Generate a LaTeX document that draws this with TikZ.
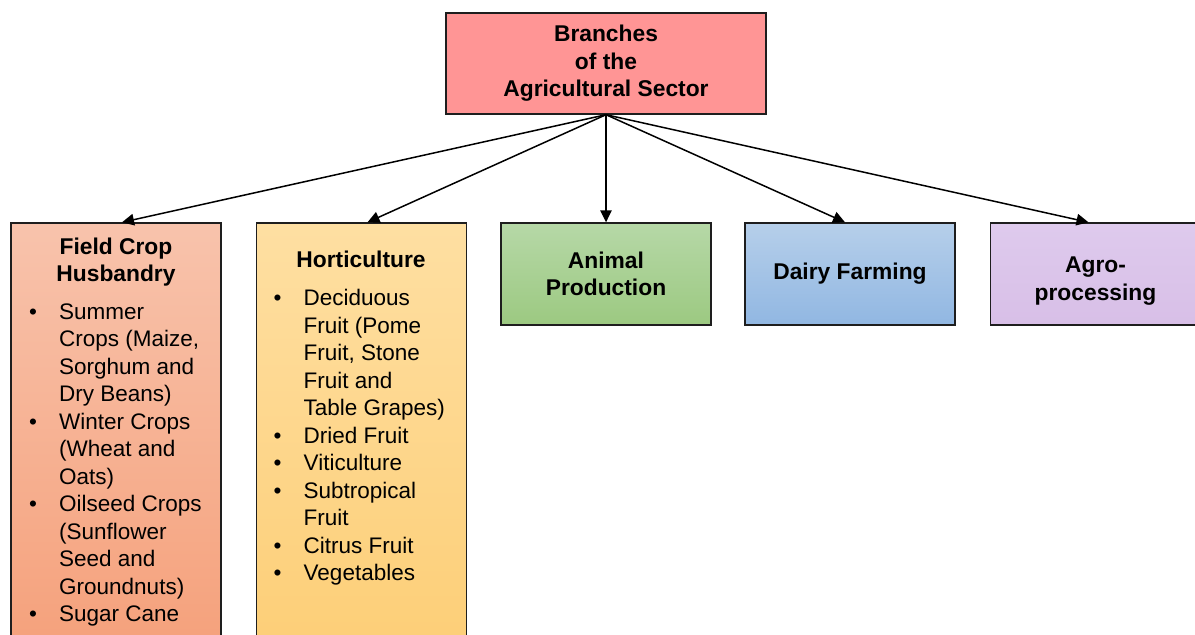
\documentclass[tikz,border=0pt]{standalone}
\usepackage{fontspec}
\setmainfont{Liberation Sans}
\usetikzlibrary{arrows.meta}

\definecolor{boxline}{HTML}{1E1E1E}
\definecolor{rootfill}{HTML}{FF9595}
\definecolor{fieldtop}{HTML}{F8C3AC}
\definecolor{fieldbot}{HTML}{F5A07A}
\definecolor{hortitop}{HTML}{FEDFA2}
\definecolor{hortibot}{HTML}{FDCE76}
\definecolor{animtop}{HTML}{B6D8A7}
\definecolor{animbot}{HTML}{9CC981}
\definecolor{dairytop}{HTML}{B6CFEA}
\definecolor{dairybot}{HTML}{91B7E2}
\definecolor{agrotop}{HTML}{DECAED}
\definecolor{agrobot}{HTML}{D8BFE7}

\newcommand\headfont{\fontsize{22.8}{27.5}\selectfont\bfseries}
\newcommand\bodyfont{\fontsize{22.5}{27.5}\selectfont}
\newcommand\bul[1]{\makebox[30pt][l]{\textbullet}#1}
\newcommand\ind[1]{\hspace*{30pt}#1}

\begin{document}
\begin{tikzpicture}[x=1pt,y=-1pt,
  box/.style={draw=boxline, line width=1.4pt, inner sep=0pt,
    minimum width=210pt, minimum height=102pt, align=center, font=\headfont},
  tallbox/.style={box, minimum height=437pt},
  link/.style={-{Triangle[length=12pt,width=11.5pt]}, line width=1.5pt, draw=black},
  listtext/.style={anchor=base west, inner sep=0pt, font=\bodyfont},
  headtext/.style={anchor=base, inner sep=0pt, font=\headfont}]

  \useasboundingbox (0,0) rectangle (1195,635);
  \fill[white] (0,0) rectangle (1195,635);
  \clip (0,0) rectangle (1195,635);

  % root of the tree
  \node[box, fill=rootfill, minimum width=320pt, minimum height=101pt]
    (root) at (606,63.5) {Branches\\of the\\Agricultural Sector};

  % five branches
  \node[tallbox, top color=fieldtop, bottom color=fieldbot] (field) at (116,441.5) {};
  \node[tallbox, top color=hortitop, bottom color=hortibot] (horti) at (361.5,441.5) {};
  \node[box, top color=animtop, bottom color=animbot] (animal) at (606,274) {Animal\\Production};
  \node[box, top color=dairytop, bottom color=dairybot] (dairy) at (850,274) {Dairy Farming};
  \node[box, top color=agrotop, bottom color=agrobot] (agro) at (1095.5,274) {};
  \node[headtext, anchor=center, align=center] (agrotext) at (1095.5,281) {Agro-\\processing};

  % field crop husbandry contents
  \node[headtext] (fieldhead) at (116,254)
    {\parbox[t]{200pt}{\centering Field Crop\\Husbandry}};
  \node[listtext] (fieldlist) at (29,319) {\parbox[t]{200pt}{\raggedright
    \bul{Summer}\\
    \ind{Crops (Maize,}\\
    \ind{Sorghum and}\\
    \ind{Dry Beans)}\\
    \bul{Winter Crops}\\
    \ind{(Wheat and}\\
    \ind{Oats)}\\
    \bul{Oilseed Crops}\\
    \ind{(Sunflower}\\
    \ind{Seed and}\\
    \ind{Groundnuts)}\\
    \bul{Sugar Cane}}};

  % horticulture contents
  \node[headtext] (hortihead) at (361,267) {Horticulture};
  \node[listtext] (hortilist) at (273.5,305.5) {\parbox[t]{200pt}{\raggedright
    \bul{Deciduous}\\
    \ind{Fruit (Pome}\\
    \ind{Fruit, Stone}\\
    \ind{Fruit and}\\
    \ind{Table Grapes)}\\
    \bul{Dried Fruit}\\
    \bul{Viticulture}\\
    \bul{Subtropical}\\
    \ind{Fruit}\\
    \bul{Citrus Fruit}\\
    \bul{Vegetables}}};

  % connectors
  \draw[link] (root.south) -- ([xshift=6pt]field.north);
  \draw[link] (root.south) -- ([xshift=6pt]horti.north);
  \draw[link] (root.south) -- (animal.north);
  \draw[link] (root.south) -- ([xshift=-5pt]dairy.north);
  \draw[link] (root.south) -- ([xshift=-7pt]agro.north);
\end{tikzpicture}
\end{document}
